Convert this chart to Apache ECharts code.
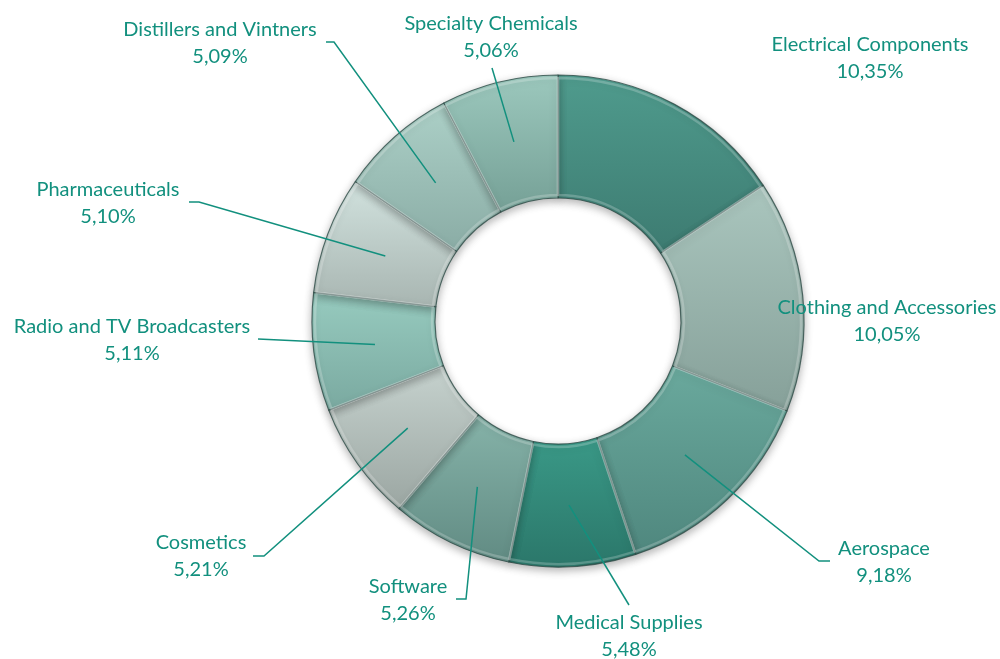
<!DOCTYPE html>
<html>
<head>
<meta charset="utf-8">
<script src="https://cdn.jsdelivr.net/npm/echarts@6/dist/echarts.min.js"></script>
<style>
  html, body { margin: 0; padding: 0; background: #ffffff; }
  #sector_chart { width: 1000px; height: 659px; }
</style>
</head>
<body>
<div id="sector_chart"></div>
<script>
// 行业占比（%），顺时针从正上方开始
var sectors = ['Electrical Components', 'Clothing and Accessories', 'Aerospace', 'Medical Supplies', 'Software',
    'Cosmetics', 'Radio and TV Broadcasters', 'Pharmaceuticals', 'Distillers and Vintners', 'Specialty Chemicals'];
var shares = [10.35, 10.05, 9.18, 5.48, 5.26, 5.21, 5.11, 5.10, 5.09, 5.06];

// 每个扇区的渐变色 [上, 下]
var slice_colors = [
    ['#4f9b8d', '#3d7b71'],
    ['#aac6be', '#86a099'],
    ['#6aa99d', '#4f877e'],
    ['#3a9987', '#2b776a'],
    ['#86b3a9', '#618b83'],
    ['#c6d2ce', '#9ba6a2'],
    ['#97cbbf', '#7aa9a0'],
    ['#d1e2de', '#a8b5b1'],
    ['#acd0c7', '#8aaca5'],
    ['#9cc8bd', '#75a096']
];

// 标签位置（文字中心）以及引导线的折点、终点
var label_pos = [
    [870, 58], [887, 321], [884, 562], [629, 636], [408, 600],
    [201, 556], [132, 340], [108, 203], [220, 43], [491, 37]
];
var line_ends = [
    null, null,
    [[819, 561], [830, 561]],
    [[629, 605], [629, 605]],
    [[466, 599], [456, 599]],
    [[264, 556], [253, 556]],
    [[258, 339], [258, 339]],
    [[199, 202], [189, 202]],
    [[334, 42], [326, 42]],
    [[492, 68], [492, 68]]
];

var center = [558, 321];
var radius = [123, 246];
var teal = '#12907e';

var total = shares.reduce(function (a, b) { return a + b; }, 0);

function midPoint(idx) {
    var before = 0;
    for (var i = 0; i < idx; i++) before += shares[i];
    var a = (before + shares[idx] / 2) / total * Math.PI * 2;
    var r = (radius[0] + radius[1]) / 2;
    return [center[0] + r * Math.sin(a), center[1] - r * Math.cos(a)];
}

var pie_data = sectors.map(function (name, i) {
    return {
        name: name,
        value: shares[i],
        itemStyle: {
            color: new echarts.graphic.LinearGradient(0, 0, 0, 1, [
                { offset: 0, color: slice_colors[i][0] },
                { offset: 1, color: slice_colors[i][1] }
            ])
        }
    };
});

// 斜面高光层
var bevel_data = sectors.map(function (name, i) {
    return { name: name, value: shares[i] };
});

// 标签层：透明扇区，引导线画在色块上面
var label_data = sectors.map(function (name, i) {
    return {
        name: name,
        value: shares[i],
        labelLine: { show: line_ends[i] !== null }
    };
});

var sector_option = {
    backgroundColor: '#ffffff',
    animation: false,
    series: [
        {
            type: 'pie',
            z: 2,
            center: center,
            radius: radius,
            startAngle: 90,
            clockwise: true,
            silent: true,
            data: pie_data,
            itemStyle: {
                borderColor: 'rgba(45,75,70,0.8)',
                borderWidth: 1.2,
                shadowBlur: 8,
                shadowOffsetY: 3,
                shadowColor: 'rgba(0,0,0,0.3)'
            },
            label: { show: false },
            labelLine: { show: false }
        },
        {
            type: 'pie',
            z: 3,
            center: center,
            radius: [radius[0] + 3, radius[1] - 3],
            startAngle: 90,
            clockwise: true,
            silent: true,
            data: bevel_data,
            itemStyle: {
                color: 'rgba(0,0,0,0)',
                borderColor: 'rgba(255,255,255,0.22)',
                borderWidth: 2.5
            },
            label: { show: false },
            labelLine: { show: false }
        },
        {
            type: 'pie',
            z: 5,
            center: center,
            radius: radius,
            startAngle: 90,
            clockwise: true,
            silent: true,
            data: label_data,
            itemStyle: { color: 'rgba(0,0,0,0)', borderWidth: 0 },
            label: {
                show: true,
                position: 'outside',
                overflow: 'none',
                color: teal,
                fontFamily: 'Lato',
                fontSize: 20,
                lineHeight: 27,
                align: 'center',
                formatter: function (p) {
                    return p.name + '\n' + p.value.toFixed(2).replace('.', ',') + '%';
                }
            },
            labelLine: {
                show: true,
                lineStyle: { color: teal, width: 1.5 }
            },
            labelLayout: function (params) {
                var i = params.dataIndex;
                var res = {
                    x: label_pos[i][0],
                    y: label_pos[i][1],
                    align: 'center',
                    verticalAlign: 'middle'
                };
                if (line_ends[i]) {
                    res.labelLinePoints = [midPoint(i), line_ends[i][0], line_ends[i][1]];
                }
                return res;
            }
        }
    ]
};

var sector_chart = echarts.init(document.getElementById('sector_chart'));
sector_chart.setOption(sector_option);
</script>
</body>
</html>
